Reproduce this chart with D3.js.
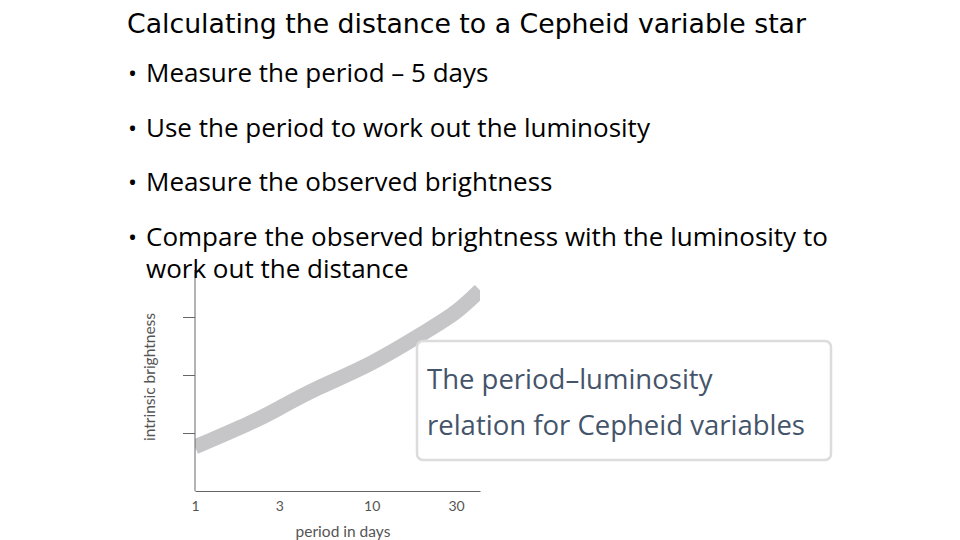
<!doctype html>
<html><head><meta charset="utf-8">
<script src="https://d3js.org/d3.v7.min.js"></script>
<style>body{margin:0;background:#fff}</style></head>
<body><svg width="960" height="540"></svg>
<script>
var periods = [1, 2, 3, 5, 10, 20, 30, 41];
var brightness = [0.76, 1.16, 1.43, 1.78, 2.21, 2.74, 3.09, 3.46];
var xTicks = [1, 3, 10, 30];
var yTicks = [1, 2, 3];
var bullets = ["Measure the period \u2013 5 days", "Use the period to work out the luminosity",
  "Measure the observed brightness", "Compare the observed brightness with the luminosity to"];

var svg = d3.select("svg");
var x = d3.scaleLog().domain([1, 41]).range([195, 480]);
var y = d3.scaleLinear().domain([0, 3.5]).range([491, 288]);

svg.append("defs").append("clipPath").attr("id", "c")
  .append("rect").attr("x", 195).attr("y", 250).attr("width", 285).attr("height", 241);

var line = d3.line().x(function(d, i){return x(periods[i])}).y(function(d){return y(d)}).curve(d3.curveNatural);
svg.append("path").datum(brightness).attr("d", line).attr("clip-path", "url(#c)")
  .attr("fill", "none").attr("stroke", "#c6c6c9").attr("stroke-width", 15);

var xa = svg.append("g").attr("transform", "translate(0,491)")
  .call(d3.axisBottom(x).tickValues(xTicks).tickFormat(d3.format("d")).tickSize(0).tickPadding(10).tickSizeOuter(0));
var ya = svg.append("g").attr("transform", "translate(195,0)")
  .call(d3.axisLeft(y).tickValues(yTicks).tickFormat("").tickSize(12).tickSizeOuter(0));
[xa, ya].forEach(function(a){
  a.selectAll("path,line").attr("stroke", "#666");
  a.selectAll("text").attr("font-family", "Lato, sans-serif").attr("font-size", 14).attr("fill", "#555");
});
ya.select(".domain").attr("d", "M0,270V491");
svg.append("text").attr("x", 343).attr("y", 537).attr("text-anchor", "middle")
  .attr("font-family", "Lato, sans-serif").attr("font-size", 15.5).attr("fill", "#555").text("period in days");
svg.append("text").attr("transform", "translate(155,377) rotate(-90)").attr("text-anchor", "middle")
  .attr("font-family", "Lato, sans-serif").attr("font-size", 15.5).attr("fill", "#555").text("intrinsic brightness");

svg.append("text").attr("x", 127).attr("y", 33).attr("font-family", "'DejaVu Sans Condensed', sans-serif")
  .attr("font-size", 27).attr("textLength", 679).attr("lengthAdjust", "spacingAndGlyphs")
  .attr("fill", "#000").text("Calculating the distance to a Cepheid variable star");

var by = [82, 137, 191, 246];
bullets.forEach(function(b, i){
  svg.append("text").attr("x", 128).attr("y", by[i]).attr("font-family", "'Open Sans', sans-serif")
    .attr("font-size", 24).attr("fill", "#000").text("\u2022");
  svg.append("text").attr("x", 146).attr("y", by[i]).attr("font-family", "'Open Sans', sans-serif")
    .attr("font-size", 26).attr("fill", "#000").text(b);
});
svg.append("text").attr("x", 146).attr("y", 278).attr("font-family", "'Open Sans', sans-serif")
  .attr("font-size", 26).attr("fill", "#000").text("work out the distance");

svg.append("rect").attr("x", 417).attr("y", 341).attr("width", 414).attr("height", 119).attr("rx", 6)
  .attr("fill", "#fff").attr("stroke", "#dcdcdc").attr("stroke-width", 2.5);
["The period\u2013luminosity", "relation for Cepheid variables"].forEach(function(t, i){
  svg.append("text").attr("x", 427).attr("y", 389 + i * 46).attr("font-family", "'Open Sans', sans-serif")
    .attr("font-size", 27.5).attr("fill", "#44546a").text(t);
});
</script></body></html>
